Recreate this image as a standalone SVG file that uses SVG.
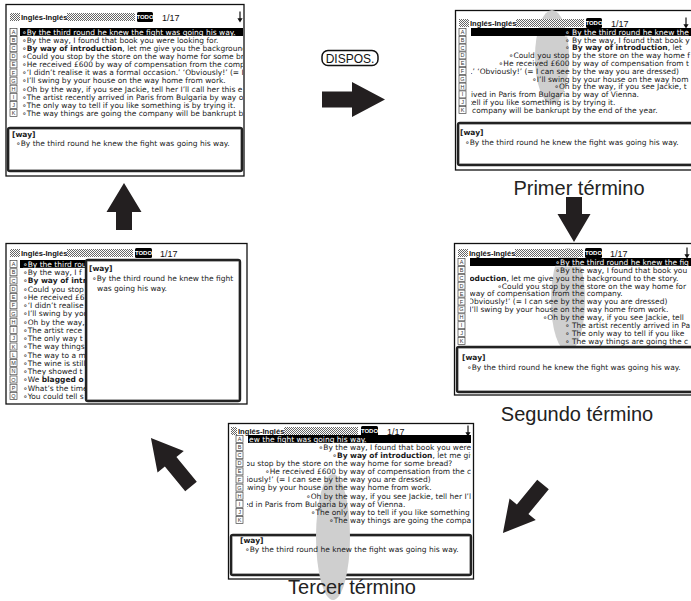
<svg xmlns="http://www.w3.org/2000/svg" width="691" height="601" viewBox="0 0 691 601">
<style>
.frame{fill:#fff;stroke:#111;stroke-width:1.3}
.t{font-family:"DejaVu Sans","Liberation Sans",sans-serif;font-size:7.5px;fill:#1a1a1a}
.e{text-anchor:end}
.wt{fill:#fff;text-decoration:underline}
.b{font-weight:bold}
.ttl{font-family:"Liberation Sans","DejaVu Sans",sans-serif;font-size:7.6px;font-weight:bold;fill:#111}
.num{font-family:"Liberation Sans","DejaVu Sans",sans-serif;font-size:9px;fill:#111}
.todo{font-family:"Liberation Sans","DejaVu Sans",sans-serif;font-size:6px;fill:#fff;text-anchor:middle;font-weight:bold}
.lb rect{fill:#fff;stroke:#444;stroke-width:0.7}
.lb text{font-family:"Liberation Sans","DejaVu Sans",sans-serif;font-size:5.5px;fill:#333;text-anchor:middle}
.pnl{fill:#fff;stroke:#222;stroke-width:2.4}
.pnl2{fill:none;stroke:#999;stroke-width:0.6}
.ell{fill:#cfcfcf}
.lab{font-family:"Liberation Sans","Helvetica",sans-serif;font-size:20px;fill:#222;text-anchor:middle}
.arrow{fill:#231f20}
.btn{fill:#fff;stroke:#111;stroke-width:1.5}
.btnt{font-family:"Liberation Sans",sans-serif;font-size:12px;fill:#111;text-anchor:middle}
</style>
<defs>
<pattern id="hp" width="2" height="2" patternUnits="userSpaceOnUse">
<rect width="2" height="2" fill="#fff"/>
<rect width="1" height="1" fill="#666"/>
<rect x="1" y="1" width="1" height="1" fill="#666"/>
</pattern>
<g id="dnarrow"><path d="M0,-5.5 V2" stroke="#111" stroke-width="1.2"/><path d="M-2.6,1.2 H2.6 L0,5.5 Z" fill="#111"/></g>
<clipPath id="c1"><rect x="20" y="26" width="223" height="92"/></clipPath>
<clipPath id="c2"><rect x="471" y="26" width="220" height="90"/></clipPath>
<clipPath id="c3"><rect x="20" y="259" width="66" height="142"/></clipPath>
<clipPath id="c4"><rect x="470" y="256" width="221" height="90"/></clipPath>
<clipPath id="c5"><rect x="247" y="433" width="224" height="92"/></clipPath>
</defs>

<!-- Screen 1 -->
<g id="screen1">
<rect class="frame" x="6" y="4.5" width="238" height="171.5"/>
<rect x="10" y="13" width="10" height="8" fill="url(#hp)"/>
<text class="ttl" x="21" y="20.3">Inglés-Inglés</text>
<rect x="67" y="13" width="68" height="8" fill="url(#hp)"/>
<rect x="137" y="12" width="16" height="10" rx="1.5" fill="#000"/>
<text class="todo" x="145" y="19.3">TODO</text>
<text class="num" x="162" y="21">1/17</text>
<use href="#dnarrow" transform="translate(240,17)"/>
<g class="lb">
<g transform="translate(10,32)"><rect y="-3.5" width="7" height="7"/><text x="3.5" y="2">A</text></g>
<g transform="translate(10,40.1)"><rect y="-3.5" width="7" height="7"/><text x="3.5" y="2">B</text></g>
<g transform="translate(10,48.2)"><rect y="-3.5" width="7" height="7"/><text x="3.5" y="2">C</text></g>
<g transform="translate(10,56.3)"><rect y="-3.5" width="7" height="7"/><text x="3.5" y="2">D</text></g>
<g transform="translate(10,64.4)"><rect y="-3.5" width="7" height="7"/><text x="3.5" y="2">E</text></g>
<g transform="translate(10,72.5)"><rect y="-3.5" width="7" height="7"/><text x="3.5" y="2">F</text></g>
<g transform="translate(10,80.6)"><rect y="-3.5" width="7" height="7"/><text x="3.5" y="2">G</text></g>
<g transform="translate(10,88.7)"><rect y="-3.5" width="7" height="7"/><text x="3.5" y="2">H</text></g>
<g transform="translate(10,96.8)"><rect y="-3.5" width="7" height="7"/><text x="3.5" y="2">I</text></g>
<g transform="translate(10,104.9)"><rect y="-3.5" width="7" height="7"/><text x="3.5" y="2">J</text></g>
<g transform="translate(10,113)"><rect y="-3.5" width="7" height="7"/><text x="3.5" y="2">K</text></g>
</g>
<g clip-path="url(#c1)" class="t">
<rect x="20" y="28" width="224" height="8" fill="#000"/>
<text x="22" y="34.8" class="wt">∘By the third round he knew the fight was going his way.</text>
<text x="22" y="42.9">∘By the way, I found that book you were looking for.</text>
<text x="22" y="51">∘<tspan class="b">By way of introduction</tspan>, let me give you the background</text>
<text x="22" y="59.1">∘Could you stop by the store on the way home for some br</text>
<text x="22" y="67.2">∘He received £600 by way of compensation from the compa</text>
<text x="22" y="75.3">∘‘I didn’t realise it was a formal occasion.’ ‘Obviously!’ (= I</text>
<text x="22" y="83.4">∘I’ll swing by your house on the way home from work.</text>
<text x="22" y="91.5">∘Oh by the way, if you see Jackie, tell her I’ll call her this e</text>
<text x="22" y="99.6">∘The artist recently arrived in Paris from Bulgaria by way of</text>
<text x="22" y="107.7">∘The only way to tell if you like something is by trying it.</text>
<text x="22" y="115.8">∘The way things are going the company will be bankrupt by</text>
</g>
<rect class="pnl" x="8" y="128" width="234" height="43" rx="2"/>
<rect class="pnl2" x="9.5" y="129.5" width="231" height="40" rx="1"/>
<text class="t b" x="12" y="136.5">[way]</text>
<text class="t" x="16" y="145.5">∘By the third round he knew the fight was going his way.</text>
</g>

<!-- Screen 2 : Primer término -->
<g id="screen2">
<rect class="frame" x="455.5" y="10.5" width="240" height="159.5"/>
<ellipse class="ell" cx="552" cy="57" rx="17" ry="47"/>
<rect x="459" y="19" width="10" height="8" fill="url(#hp)"/>
<text class="ttl" x="470" y="26.3">Inglés-Inglés</text>
<rect x="516" y="19" width="68" height="8" fill="url(#hp)"/>
<rect x="586" y="18" width="16" height="10" rx="1.5" fill="#000"/>
<text class="todo" x="594" y="25.3">TODO</text>
<text class="num" x="611" y="27">1/17</text>
<use href="#dnarrow" transform="translate(686,23)"/>
<g class="lb">
<g transform="translate(459,32)"><rect y="-3.5" width="7" height="7"/><text x="3.5" y="2">A</text></g>
<g transform="translate(459,39.8)"><rect y="-3.5" width="7" height="7"/><text x="3.5" y="2">B</text></g>
<g transform="translate(459,47.6)"><rect y="-3.5" width="7" height="7"/><text x="3.5" y="2">C</text></g>
<g transform="translate(459,55.4)"><rect y="-3.5" width="7" height="7"/><text x="3.5" y="2">D</text></g>
<g transform="translate(459,63.2)"><rect y="-3.5" width="7" height="7"/><text x="3.5" y="2">E</text></g>
<g transform="translate(459,71)"><rect y="-3.5" width="7" height="7"/><text x="3.5" y="2">F</text></g>
<g transform="translate(459,78.8)"><rect y="-3.5" width="7" height="7"/><text x="3.5" y="2">G</text></g>
<g transform="translate(459,86.6)"><rect y="-3.5" width="7" height="7"/><text x="3.5" y="2">H</text></g>
<g transform="translate(459,94.4)"><rect y="-3.5" width="7" height="7"/><text x="3.5" y="2">I</text></g>
<g transform="translate(459,102.2)"><rect y="-3.5" width="7" height="7"/><text x="3.5" y="2">J</text></g>
<g transform="translate(459,110)"><rect y="-3.5" width="7" height="7"/><text x="3.5" y="2">K</text></g>
</g>
<g clip-path="url(#c2)" class="t">
<rect x="471" y="28" width="220" height="8" fill="#000"/>
<text x="569.6" y="34.8" class="e wt">∘</text><text x="572" y="34.8" class="wt">By the third round he knew the</text>
<text x="569.6" y="42.6" class="e">∘</text><text x="572" y="42.6">By the way, I found that book y</text>
<text x="569.6" y="50.4" class="e">∘</text><text x="572" y="50.4"><tspan class="b">By way of introduction</tspan>, let</text>
<text x="569.6" y="58.2" class="e">∘Could you stop</text><text x="572" y="58.2">by the store on the way home f</text>
<text x="569.6" y="66" class="e">∘He received £600</text><text x="572" y="66">by way of compensation from t</text>
<text x="569.6" y="73.8" class="e">.’ ‘Obviously!’ (= I can see</text><text x="572" y="73.8">by the way you are dressed)</text>
<text x="569.6" y="81.6" class="e">∘I’ll swing</text><text x="572" y="81.6">by your house on the way hom</text>
<text x="569.6" y="89.4" class="e">∘Oh</text><text x="572" y="89.4">by the way, if you see Jackie, t</text>
<text x="569.6" y="97.2" class="e">rrived in Paris from Bulgaria</text><text x="572" y="97.2">by way of Vienna.</text>
<text x="569.6" y="105" class="e">tell if you like something is</text><text x="572" y="105">by trying it.</text>
<text x="569.6" y="112.8" class="e">company will be bankrupt</text><text x="572" y="112.8">by the end of the year.</text>
</g>
<rect class="pnl" x="458" y="123" width="240" height="42" rx="2"/>
<rect class="pnl2" x="459.5" y="124.5" width="240" height="39" rx="1"/>
<text class="t b" x="460" y="134.5">[way]</text>
<text class="t" x="465" y="144.5">∘By the third round he knew the fight was going his way.</text>
<text class="lab" x="579" y="195">Primer término</text>
</g>

<!-- Screen 3 : popup -->
<g id="screen3">
<rect class="frame" x="6" y="243.5" width="241" height="160.5"/>
<rect x="10" y="249" width="10" height="8" fill="url(#hp)"/>
<text class="ttl" x="21" y="256">Inglés-Inglés</text>
<rect x="67" y="249" width="66" height="8" fill="url(#hp)"/>
<rect x="135" y="248" width="17" height="10" rx="1.5" fill="#000"/>
<text class="todo" x="143.5" y="255.3">TODO</text>
<text class="num" x="160" y="256.5">1/17</text>
<g class="lb">
<g transform="translate(10,264)"><rect y="-3.5" width="7" height="7"/><text x="3.5" y="2">A</text></g>
<g transform="translate(10,272.25)"><rect y="-3.5" width="7" height="7"/><text x="3.5" y="2">B</text></g>
<g transform="translate(10,280.5)"><rect y="-3.5" width="7" height="7"/><text x="3.5" y="2">C</text></g>
<g transform="translate(10,288.75)"><rect y="-3.5" width="7" height="7"/><text x="3.5" y="2">D</text></g>
<g transform="translate(10,297)"><rect y="-3.5" width="7" height="7"/><text x="3.5" y="2">E</text></g>
<g transform="translate(10,305.25)"><rect y="-3.5" width="7" height="7"/><text x="3.5" y="2">F</text></g>
<g transform="translate(10,313.5)"><rect y="-3.5" width="7" height="7"/><text x="3.5" y="2">G</text></g>
<g transform="translate(10,321.75)"><rect y="-3.5" width="7" height="7"/><text x="3.5" y="2">H</text></g>
<g transform="translate(10,330)"><rect y="-3.5" width="7" height="7"/><text x="3.5" y="2">I</text></g>
<g transform="translate(10,338.25)"><rect y="-3.5" width="7" height="7"/><text x="3.5" y="2">J</text></g>
<g transform="translate(10,346.5)"><rect y="-3.5" width="7" height="7"/><text x="3.5" y="2">K</text></g>
<g transform="translate(10,354.75)"><rect y="-3.5" width="7" height="7"/><text x="3.5" y="2">L</text></g>
<g transform="translate(10,363)"><rect y="-3.5" width="7" height="7"/><text x="3.5" y="2">M</text></g>
<g transform="translate(10,371.25)"><rect y="-3.5" width="7" height="7"/><text x="3.5" y="2">N</text></g>
<g transform="translate(10,379.5)"><rect y="-3.5" width="7" height="7"/><text x="3.5" y="2">O</text></g>
<g transform="translate(10,387.75)"><rect y="-3.5" width="7" height="7"/><text x="3.5" y="2">P</text></g>
<g transform="translate(10,396)"><rect y="-3.5" width="7" height="7"/><text x="3.5" y="2">Q</text></g>
</g>
<g clip-path="url(#c3)" class="t">
<rect x="20" y="260" width="66" height="8" fill="#000"/>
<text x="23" y="266.8" class="wt">∘By the third rou</text>
<text x="23" y="275.05">∘By the way, I f</text>
<text x="23" y="283.3">∘<tspan class="b">By way of intr</tspan></text>
<text x="23" y="291.55">∘Could you stop</text>
<text x="23" y="299.8">∘He received £6</text>
<text x="23" y="308.05">∘‘I didn’t realise</text>
<text x="23" y="316.3">∘I’ll swing by you</text>
<text x="23" y="324.55">∘Oh by the way,</text>
<text x="23" y="332.8">∘The artist rece</text>
<text x="23" y="341.05">∘The only way t</text>
<text x="23" y="349.3">∘The way things</text>
<text x="23" y="357.55">∘The way to a m</text>
<text x="23" y="365.8">∘The wine is still</text>
<text x="23" y="374.05">∘They showed t</text>
<text x="23" y="382.3">∘We <tspan class="b">blagged o</tspan></text>
<text x="23" y="390.55">∘What’s the time</text>
<text x="23" y="398.8">∘You could tell s</text>
</g>
<rect class="pnl" x="86" y="260" width="154" height="141" rx="2"/>
<rect class="pnl2" x="87.5" y="261.5" width="151" height="138" rx="1"/>
<text class="t b" x="89" y="271">[way]</text>
<text class="t" x="92" y="281">∘By the third round he knew the fight</text>
<text class="t" x="97" y="291">was going his way.</text>
</g>

<!-- Screen 4 : Segundo término -->
<g id="screen4">
<rect class="frame" x="454.5" y="243.5" width="240" height="151.5"/>
<ellipse class="ell" cx="568" cy="300" rx="17" ry="52"/>
<rect x="458" y="249" width="10" height="8" fill="url(#hp)"/>
<text class="ttl" x="469" y="256.3">Inglés-Inglés</text>
<rect x="515" y="249" width="68" height="8" fill="url(#hp)"/>
<rect x="585" y="248" width="17" height="10" rx="1.5" fill="#000"/>
<text class="todo" x="593.5" y="255.3">TODO</text>
<text class="num" x="610" y="257">1/17</text>
<use href="#dnarrow" transform="translate(687,253)"/>
<g class="lb">
<g transform="translate(458,262)"><rect y="-3.5" width="7" height="7"/><text x="3.5" y="2">A</text></g>
<g transform="translate(458,269.9)"><rect y="-3.5" width="7" height="7"/><text x="3.5" y="2">B</text></g>
<g transform="translate(458,277.8)"><rect y="-3.5" width="7" height="7"/><text x="3.5" y="2">C</text></g>
<g transform="translate(458,285.7)"><rect y="-3.5" width="7" height="7"/><text x="3.5" y="2">D</text></g>
<g transform="translate(458,293.6)"><rect y="-3.5" width="7" height="7"/><text x="3.5" y="2">E</text></g>
<g transform="translate(458,301.5)"><rect y="-3.5" width="7" height="7"/><text x="3.5" y="2">F</text></g>
<g transform="translate(458,309.4)"><rect y="-3.5" width="7" height="7"/><text x="3.5" y="2">G</text></g>
<g transform="translate(458,317.3)"><rect y="-3.5" width="7" height="7"/><text x="3.5" y="2">H</text></g>
<g transform="translate(458,325.2)"><rect y="-3.5" width="7" height="7"/><text x="3.5" y="2">I</text></g>
<g transform="translate(458,333.1)"><rect y="-3.5" width="7" height="7"/><text x="3.5" y="2">J</text></g>
<g transform="translate(458,341)"><rect y="-3.5" width="7" height="7"/><text x="3.5" y="2">K</text></g>
</g>
<g clip-path="url(#c4)" class="t">
<rect x="470" y="258" width="221" height="8" fill="#000"/>
<text x="569.6" y="264.8" class="e wt">∘By</text><text x="572" y="264.8" class="wt">the third round he knew the fig</text>
<text x="569.6" y="272.7" class="e">∘By</text><text x="572" y="272.7">the way, I found that book you</text>
<text x="569.6" y="280.6" class="e"><tspan class="b">roduction</tspan>, let me give you</text><text x="572" y="280.6">the background to the story.</text>
<text x="569.6" y="288.5" class="e">∘Could you stop by</text><text x="572" y="288.5">the store on the way home for</text>
<text x="569.6" y="296.4" class="e">way of compensation from</text><text x="572" y="296.4">the company.</text>
<text x="569.6" y="304.3" class="e">Obviously!’ (= I can see by</text><text x="572" y="304.3">the way you are dressed)</text>
<text x="569.6" y="312.2" class="e">I’ll swing by your house on</text><text x="572" y="312.2">the way home from work.</text>
<text x="569.6" y="320.1" class="e">∘Oh by</text><text x="572" y="320.1">the way, if you see Jackie, tell</text>
<text x="569.6" y="328" class="e">∘</text><text x="572" y="328">The artist recently arrived in Pa</text>
<text x="569.6" y="335.9" class="e">∘</text><text x="572" y="335.9">The only way to tell if you like</text>
<text x="569.6" y="343.8" class="e">∘</text><text x="572" y="343.8">The way things are going the c</text>
</g>
<rect class="pnl" x="457" y="347" width="240" height="45" rx="2"/>
<rect class="pnl2" x="458.5" y="348.5" width="240" height="42" rx="1"/>
<text class="t b" x="462" y="360">[way]</text>
<text class="t" x="467" y="370">∘By the third round he knew the fight was going his way.</text>
<text class="lab" x="577" y="421">Segundo término</text>
</g>

<!-- Screen 5 : Tercer término -->
<g id="screen5">
<rect class="frame" x="228.5" y="423.5" width="245" height="155.5"/>
<rect x="231" y="427" width="6" height="8" fill="url(#hp)"/>
<text class="ttl" x="238" y="434.3">Inglés-Inglés</text>
<rect x="284" y="427" width="74" height="8" fill="url(#hp)"/>
<rect x="361" y="426" width="17" height="10" rx="1.5" fill="#000"/>
<text class="todo" x="369.5" y="433.3">TODO</text>
<text class="num" x="387" y="435">1/17</text>
<use href="#dnarrow" transform="translate(468,431)"/>
<g class="lb">
<g transform="translate(236,439)"><rect y="-3.5" width="7" height="7"/><text x="3.5" y="2">A</text></g>
<g transform="translate(236,447.1)"><rect y="-3.5" width="7" height="7"/><text x="3.5" y="2">B</text></g>
<g transform="translate(236,455.2)"><rect y="-3.5" width="7" height="7"/><text x="3.5" y="2">C</text></g>
<g transform="translate(236,463.3)"><rect y="-3.5" width="7" height="7"/><text x="3.5" y="2">D</text></g>
<g transform="translate(236,471.4)"><rect y="-3.5" width="7" height="7"/><text x="3.5" y="2">E</text></g>
<g transform="translate(236,479.5)"><rect y="-3.5" width="7" height="7"/><text x="3.5" y="2">F</text></g>
<g transform="translate(236,487.6)"><rect y="-3.5" width="7" height="7"/><text x="3.5" y="2">G</text></g>
<g transform="translate(236,495.7)"><rect y="-3.5" width="7" height="7"/><text x="3.5" y="2">H</text></g>
<g transform="translate(236,503.8)"><rect y="-3.5" width="7" height="7"/><text x="3.5" y="2">I</text></g>
<g transform="translate(236,511.9)"><rect y="-3.5" width="7" height="7"/><text x="3.5" y="2">J</text></g>
<g transform="translate(236,520)"><rect y="-3.5" width="7" height="7"/><text x="3.5" y="2">K</text></g>
</g>
<rect class="pnl" x="231" y="535" width="240" height="40" rx="2"/>
<rect class="pnl2" x="232.5" y="536.5" width="237" height="37" rx="1"/>
<ellipse class="ell" cx="333" cy="537" rx="17" ry="63"/>
<g clip-path="url(#c5)" class="t">
<rect x="248" y="435" width="224" height="8" fill="#000"/>
<text x="347.6" y="441.8" class="e wt">ew the fight was going his</text><text x="350" y="441.8" class="wt">way.</text>
<text x="347.6" y="449.9" class="e">∘By the</text><text x="350" y="449.9">way, I found that book you were</text>
<text x="347.6" y="458" class="e">∘<tspan class="b">By</tspan></text><text x="350" y="458"><tspan class="b">way of introduction</tspan>, let me giv</text>
<text x="347.6" y="466.1" class="e">ou stop by the store on the</text><text x="350" y="466.1">way home for some bread?</text>
<text x="347.6" y="474.2" class="e">∘He received £600 by</text><text x="350" y="474.2">way of compensation from the c</text>
<text x="347.6" y="482.3" class="e">iously!’ (= I can see by the</text><text x="350" y="482.3">way you are dressed)</text>
<text x="347.6" y="490.4" class="e">swing by your house on the</text><text x="350" y="490.4">way home from work.</text>
<text x="347.6" y="498.5" class="e">∘Oh by the</text><text x="350" y="498.5">way, if you see Jackie, tell her I’l</text>
<text x="347.6" y="506.6" class="e">ed in Paris from Bulgaria by</text><text x="350" y="506.6">way of Vienna.</text>
<text x="347.6" y="514.7" class="e">∘The only</text><text x="350" y="514.7">way to tell if you like something i</text>
<text x="347.6" y="522.8" class="e">∘The</text><text x="350" y="522.8">way things are going the compa</text>
</g>
<text class="t b" x="240" y="542.5">[way]</text>
<text class="t" x="245" y="551.5">∘By the third round he knew the fight was going his way.</text>
<text class="lab" x="352" y="594">Tercer término</text>
</g>

<!-- DISPOS. key -->
<g id="key-dispos">
<rect class="btn" x="322" y="50.5" width="56" height="15" rx="6"/>
<text class="btnt" x="350" y="62.5">DISPOS.</text>
</g>

<!-- Connectors -->
<g id="connectors" class="arrow">
<polygon points="0,-8 30,-8 30,-17.5 63,0 30,17.5 30,8 0,8" transform="translate(322,99.5)"/>
<polygon points="0,-8 17,-8 17,-16.5 45,0 17,16.5 17,8 0,8" transform="translate(574,197) rotate(90)"/>
<polygon points="0,-7.5 32,-7.5 32,-17 63,0 32,17 32,7.5 0,7.5" transform="translate(543,484.5) rotate(129.5)"/>
<polygon points="0,-7.5 32,-7.5 32,-17 63,0 32,17 32,7.5 0,7.5" transform="translate(191,486.5) rotate(-129.5)"/>
<polygon points="0,-8 18,-8 18,-17.5 47,0 18,17.5 18,8 0,8" transform="translate(124,230) rotate(-90)"/>
</g>
</svg>
